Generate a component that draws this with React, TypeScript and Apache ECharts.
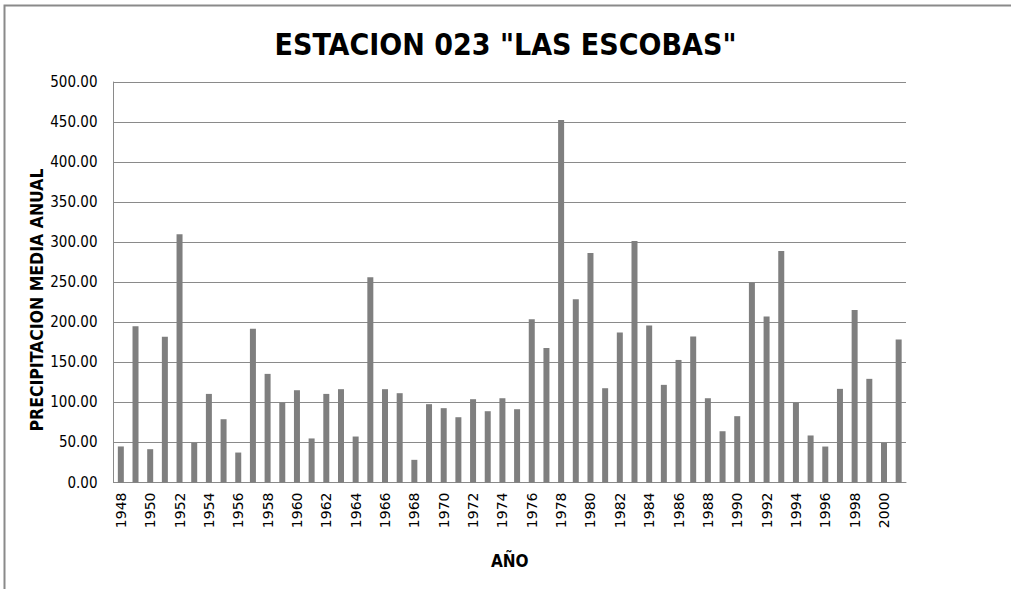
import React, { useEffect, useRef } from "react";
import * as echarts from "echarts";

const years: string[] = [];
for (let y = 1948; y <= 2001; y++) years.push(String(y));

const precip: number[] = [
  45, 195, 41.6, 182, 310,
  49.5, 110.6, 79, 37.4, 192,
  135.6, 99.8, 115.2, 55, 110.6,
  116.5, 57.4, 256.2, 116.5, 111.5,
  28.3, 97.8, 92.8, 81.5, 104,
  89, 105.2, 91.5, 203.8, 168,
  452.6, 228.8, 286.6, 117.7, 187.2,
  301.6, 196, 121.9, 153, 182.2,
  105.2, 64, 82.8, 249.6, 207.2,
  289.1, 99.8, 58.7, 44.9, 116.9,
  215.5, 129.4, 49.5, 178.5,
];

const TITLE = 'ESTACION 023 "LAS ESCOBAS"';
const Y_NAME = "PRECIPITACION MEDIA ANUAL";
const X_NAME = "AÑO";

export default function App() {
  const ref = useRef<HTMLDivElement>(null);
  useEffect(() => {
    document.body.style.margin = "0";
    const chart = echarts.init(ref.current!, null, { renderer: "svg" });
    chart.setOption({
      animation: false,
      backgroundColor: "#ffffff",
      title: {
        text: TITLE,
        left: "center",
        top: 24,
        textStyle: {
          fontFamily: "DejaVu Sans Condensed",
          fontWeight: "bold",
          fontSize: 30,
          color: "#000",
        },
      },
      graphic: [
        {
          type: "polyline",
          shape: { points: [[4.5, 589], [4.5, 5.5], [1011, 5.5]] },
          style: { stroke: "#8a8a8a", lineWidth: 2, fill: "none" },
          silent: true,
        },
        {
          type: "text",
          x: 37,
          y: 300,
          rotation: Math.PI / 2,
          style: {
            text: Y_NAME,
            align: "center",
            verticalAlign: "middle",
            fontFamily: "DejaVu Sans Condensed",
            fontWeight: "bold",
            fontSize: 17.5,
            fill: "#000",
          },
          z: 10,
        },
      ],
      grid: { left: 113.5, right: 105, top: 82, bottom: 106.5, containLabel: false },
      xAxis: {
        type: "category",
        data: years,
        name: X_NAME,
        nameLocation: "middle",
        nameGap: 70,
        nameTextStyle: {
          fontFamily: "DejaVu Sans Condensed",
          fontWeight: "bold",
          fontSize: 17,
          color: "#000",
        },
        axisLine: { show: true, lineStyle: { color: "#8a8a8a", width: 1 } },
        axisTick: { show: false },
        axisLabel: {
          interval: 1,
          rotate: 90,
          margin: 10,
          fontFamily: "DejaVu Sans",
          fontSize: 14,
          color: "#000",
        },
      },
      yAxis: {
        type: "value",
        min: 0,
        max: 500,
        interval: 50,
        axisLine: { show: true, lineStyle: { color: "#8a8a8a", width: 1 } },
        axisTick: { show: false },
        splitLine: { show: true, lineStyle: { color: "#8a8a8a", width: 1 } },
        axisLabel: {
          formatter: (v: number) => v.toFixed(2),
          margin: 16,
          fontFamily: "DejaVu Sans Condensed",
          fontSize: 15,
          color: "#000",
        },
      },
      series: [
        {
          type: "bar",
          data: precip,
          barWidth: 6,
          itemStyle: { color: "#7f7f7f" },
        },
      ],
    });
    return () => chart.dispose();
  }, []);
  return (
    <div
      ref={ref}
      style={{ position: "absolute", left: 0, top: 0, width: 1011, height: 589 }}
    />
  );
}
